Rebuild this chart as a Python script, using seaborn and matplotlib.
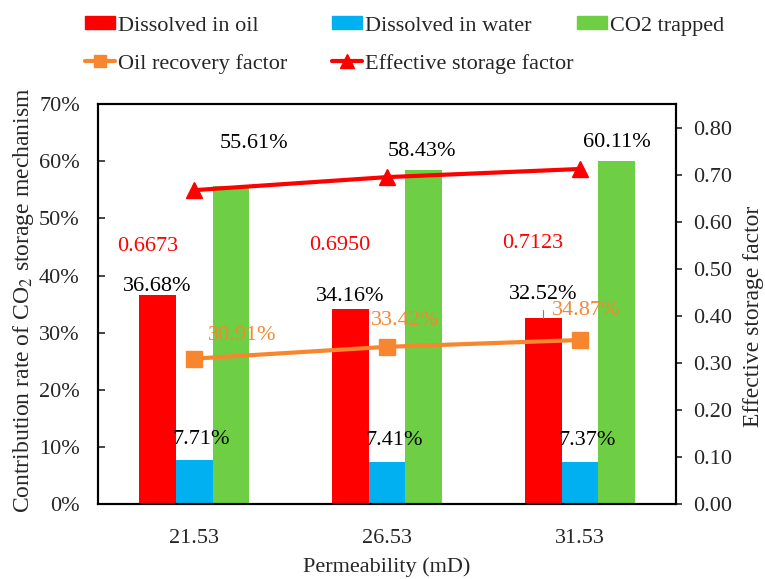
import numpy as np
import pandas as pd
import seaborn as sns
import matplotlib.pyplot as plt
from matplotlib.lines import Line2D
from matplotlib.patches import Patch

permeability = ['21.53', '26.53', '31.53']
mechanisms = ['Dissolved in oil', 'Dissolved in water', 'CO2 trapped']
dissolved_oil = [36.68, 34.16, 32.52]
dissolved_water = [7.71, 7.41, 7.37]
co2_trapped = [55.61, 58.43, 60.11]
oil_recovery = [0.3091, 0.3342, 0.3487]
storage_factor = [0.6673, 0.6950, 0.7123]

bar_colors = ['#FF0000', '#00B0F0', '#6ECF45']
orange = '#F7862F'
red = '#FF0000'

sns.set_theme(style='white')
plt.rcParams['font.family'] = ['Liberation Serif', 'DejaVu Serif']
plt.rcParams['mathtext.fontset'] = 'stix'

df = pd.DataFrame({
    'perm': permeability * 3,
    'mech': np.repeat(mechanisms, 3),
    'value': dissolved_oil + dissolved_water + co2_trapped,
})

fig = plt.figure(figsize=(7.65, 5.79), dpi=100)
W, H = 765, 579
ax = fig.add_axes([0.128, 0.1295, 0.756, 0.6905])
sns.barplot(data=df, x='perm', y='value', hue='mech', hue_order=mechanisms,
            palette=bar_colors, saturation=1, width=0.57, gap=0, linewidth=0,
            ax=ax, legend=False, errorbar=None)
ax.set_xlim(-0.5, 2.5)
ax.set_ylim(0, 70)
ax.set_yticks(np.arange(0, 71, 10))
ax.set_yticklabels([f'{v}%' for v in range(0, 71, 10)])
ax.tick_params(axis='y', direction='in', length=5, width=1.2, labelsize=16, left=True, pad=13)
ax.tick_params(axis='x', length=0, labelsize=16, pad=18)
ax.set_xlabel('Permeability (mD)', fontsize=16, labelpad=7)
ax.set_ylabel('')
for s in ax.spines.values():
    s.set_color('black')
    s.set_linewidth(1.5)
fig.text(24 / W, 1 - 300 / H, 'Contribution rate of CO$_2$ storage mechanism',
         rotation=90, ha='center', va='center', fontsize=17)

x = np.arange(len(permeability))
bw = 0.19

# bar value labels (offsets in pixels, tuned to the reference)
oil_off = [(0, 8), (0, 12), (0, 24)]
water_off = [(7, 20), (7, 21), (7, 21)]
trap_off = [(23, 43), (-2, 19), (0, 18)]
for i in range(3):
    ax.annotate(f'{dissolved_oil[i]:.2f}%', (x[i] - bw, dissolved_oil[i]), xytext=oil_off[i],
                textcoords='offset pixels', ha='center', va='center', fontsize=16, color='black')
    ax.annotate(f'{dissolved_water[i]:.2f}%', (x[i], dissolved_water[i]), xytext=water_off[i],
                textcoords='offset pixels', ha='center', va='center', fontsize=16, color='black')
    ax.annotate(f'{co2_trapped[i]:.2f}%', (x[i] + bw, co2_trapped[i]), xytext=trap_off[i],
                textcoords='offset pixels', ha='center', va='center', fontsize=16, color='black')
ax.plot([x[2] - bw, x[2] - bw], [dissolved_oil[2], dissolved_oil[2] + 1.5], color='grey', lw=0.8)

ax2 = ax.twinx()
ax2.plot(x, oil_recovery, color=orange, lw=3, marker='s', ms=11)
ax2.plot(x, storage_factor, color=red, lw=3, marker='^', ms=12)
ax2.set_ylim(0, 0.85)
ax2.set_yticks(np.arange(0, 0.81, 0.1))
ax2.set_yticklabels([f'{v:.2f}' for v in np.arange(0, 0.81, 0.1)])
ax2.tick_params(axis='y', direction='out', length=4.5, width=1.2, labelsize=16, right=True, pad=8)
ax2.grid(False)
for s in ax2.spines.values():
    s.set_color('black')
    s.set_linewidth(1.5)
fig.text(753 / W, 1 - 316 / H, 'Effective storage factor',
         rotation=90, ha='center', va='center', fontsize=17)

rec_off = [(48, 23), (18, 26), (6, 30)]
sf_off = [(-47, -56), (-47, -68), (-47, -75)]
for i in range(3):
    ax2.annotate(f'{oil_recovery[i] * 100:.2f}%', (x[i], oil_recovery[i]), xytext=rec_off[i],
                 textcoords='offset pixels', ha='center', va='center', fontsize=16, color=orange)
    ax2.annotate(f'{storage_factor[i]:.4f}', (x[i], storage_factor[i]), xytext=sf_off[i],
                 textcoords='offset pixels', ha='center', va='center', fontsize=16, color=red)

# legend laid out as three columns, like the reference
columns = [
    ([Patch(color=bar_colors[0]), Line2D([], [], color=orange, lw=3, marker='s', ms=9)],
     ['Dissolved in oil', 'Oil recovery factor'], 85),
    ([Patch(color=bar_colors[1]), Line2D([], [], color=red, lw=3, marker='^', ms=10)],
     ['Dissolved in water', 'Effective storage factor'], 332),
    ([Patch(color=bar_colors[2])], ['CO2 trapped'], 577),
]
for hs, ls, xpix in columns:
    fig.legend(hs, ls, loc='upper left', bbox_to_anchor=(xpix / W, 1 - 16 / H),
               frameon=False, fontsize=16, handlelength=1.35, handleheight=0.55,
               handletextpad=0.15, labelspacing=0.82, borderpad=0, borderaxespad=0)

fig.savefig('out.png', dpi=100)
